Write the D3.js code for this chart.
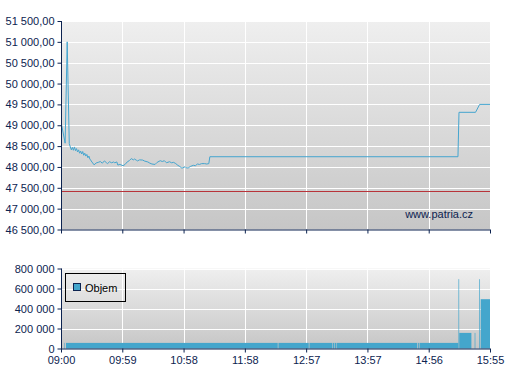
<!DOCTYPE html>
<html>
<head>
<meta charset="utf-8">
<script src="https://cdn.jsdelivr.net/npm/d3@7"></script>
<style>
  body { margin: 0; background: #fff; }
  text { font-family: "Liberation Sans", Arial, sans-serif; font-size: 11px; }
</style>
</head>
<body>
<script>
// intraday price (HH:MM) and volume bars
var priceTimes = ["09:00","09:04","09:06","09:08","09:09","09:10","09:11","09:12","09:13","09:14","09:15","09:16","09:17","09:18","09:19","09:20","09:21","09:22","09:23","09:24","09:25","09:26","09:27","09:28","09:29","09:30","09:31","09:32","09:34","09:36","09:38","09:40","09:42","09:44","09:45","09:47","09:49","09:51","09:52","09:54","09:55","09:57","10:00","10:02","10:04","10:06","10:08","10:10","10:11","10:13","10:14","10:16","10:19","10:21","10:24","10:26","10:28","10:31","10:33","10:36","10:38","10:40","10:42","10:45","10:47","10:49","10:51","10:53","10:55","10:57","11:00","11:01","11:03","11:05","11:08","11:10","11:12","11:14","11:16","11:19","11:21","11:23","11:24","15:24","15:25","15:41","15:45","15:55"];
var priceValues = [49085,48570,51000,48560,48480,48410,48470,48400,48480,48390,48440,48360,48410,48330,48380,48310,48370,48280,48330,48260,48300,48220,48260,48180,48160,48110,48090,48050,48095,48110,48130,48090,48145,48100,48080,48125,48100,48120,48100,48120,48045,48060,48030,48060,48120,48150,48200,48170,48190,48160,48145,48170,48165,48140,48120,48090,48070,48060,48110,48150,48130,48150,48100,48125,48100,48110,48080,48040,48010,47970,48005,47980,47975,48010,48040,48030,48070,48060,48080,48080,48070,48080,48245,48245,49310,49310,49500,49500];
var refLevel = 47420;

var volStart  = ["09:03:20","09:04:50","12:30:20","13:00:20","13:22:50","13:24:50","13:27:00","14:45:10","14:46:50","15:24:30","15:25:15","15:40:10","15:44:40","15:46:00"];
var volEnd    = ["09:03:50","12:29:40","12:59:40","13:22:20","13:24:20","13:26:30","14:44:30","14:46:10","15:24:20","15:25:10","15:37:00","15:40:50","15:45:20","15:55:00"];
var volValues = [56000,56000,56000,56000,56000,56000,56000,56000,56000,693000,156000,156000,693000,493000];

var xTickLabels = ["09:00","09:59","10:58","11:58","12:57","13:57","14:56","15:55"];
var priceTicks = [46500,47000,47500,48000,48500,49000,49500,50000,50500,51000,51500];
var volTicks = [0,200000,400000,600000,800000];

var W = 507, H = 380;
var left = 61, right = 490;
var mainTop = 21, mainBottom = 229.5;
var volTop = 268.5, volBottom = 348.5;
var ink = "#0c2350", lineCol = "#45a5cf";

var parseM = d3.timeParse("%H:%M"), parseS = d3.timeParse("%H:%M:%S");
var t0 = parseM("09:00"), t1 = parseM("15:55");

var loc = d3.formatLocale({decimal: ",", thousands: "\u00a0", grouping: [3], currency: ["", ""]});
var fmtPrice = loc.format(",.2f"), fmtVol = loc.format(",.0f");

var x = d3.scaleTime().domain([t0, t1]).range([left, right]);
var tickDates = d3.range(xTickLabels.length).map(function(i){
  return new Date(+t0 + i*(t1 - t0)/(xTickLabels.length - 1));
});
var yP = d3.scaleLinear().domain([46500, 51500]).range([mainBottom, mainTop]);
var yV = d3.scaleLinear().domain([0, 800000]).range([volBottom, volTop]);

var svg = d3.select('body').append('svg').attr('width', W).attr('height', H);
var defs = svg.append('defs');
var grad = defs.append('linearGradient').attr('id','bg').attr('x1',0).attr('y1',0).attr('x2',0).attr('y2',1);
grad.append('stop').attr('offset','0%').attr('stop-color','#efefef');
grad.append('stop').attr('offset','100%').attr('stop-color','#c6c6c6');
defs.append('clipPath').attr('id','clipMain').append('rect')
  .attr('x', left).attr('y', mainTop).attr('width', right-left).attr('height', mainBottom-mainTop);

function panel(top, bottom, yScale, ticks){
  var g = svg.append('g');
  g.append('rect').attr('x', left).attr('y', top).attr('width', right-left).attr('height', bottom-top)
    .attr('fill','url(#bg)');
  g.selectAll('.hg').data(ticks).enter().append('line')
    .attr('x1', left).attr('x2', right)
    .attr('y1', function(d){return Math.round(yScale(d))+0.5;})
    .attr('y2', function(d){return Math.round(yScale(d))+0.5;})
    .attr('stroke','#fff').attr('stroke-width',1);
  g.selectAll('.vg').data(tickDates).enter().append('line')
    .attr('x1', function(d){return Math.round(x(d))+0.5;})
    .attr('x2', function(d){return Math.round(x(d))+0.5;})
    .attr('y1', top).attr('y2', bottom)
    .attr('stroke','#fff').attr('stroke-width',1);
  return g;
}

function axes(bottom, yScale, ticks, fmt, showLabels){
  var ya = svg.append('g').attr('transform','translate('+(left+0.5)+',0)')
    .call(d3.axisLeft(yScale).tickValues(ticks).tickFormat(fmt).tickSize(4).tickPadding(3));
  var xa = svg.append('g').attr('transform','translate(0,'+bottom+')')
    .call(d3.axisBottom(x).tickValues(tickDates).tickSize(4).tickPadding(4)
      .tickFormat(function(d,i){return showLabels ? xTickLabels[i] : '';}));
  [ya, xa].forEach(function(a){
    a.select('.domain').attr('stroke', ink);
    a.selectAll('.tick line').attr('stroke', ink);
    a.selectAll('.tick text').attr('fill', ink).style('font-size','11px')
      .style('font-family','"Liberation Sans", Arial, sans-serif');
  });
  xa.select('.domain').attr('d','M'+left+',0.5H'+right);
  ya.select('.domain').attr('d','M0,'+yScale.range()[1]+'V'+(bottom+0.5));
}

// main price panel
panel(mainTop, mainBottom, yP, priceTicks);
svg.append('line').attr('x1', left).attr('x2', right)
  .attr('y1', Math.round(yP(refLevel))+0.5).attr('y2', Math.round(yP(refLevel))+0.5)
  .attr('stroke','#b8343a').attr('stroke-width',1);

var pts = priceTimes.map(function(t,i){return {t: parseM(t), v: priceValues[i]};});
svg.append('path').datum(pts).attr('clip-path','url(#clipMain)')
  .attr('fill','none').attr('stroke', lineCol).attr('stroke-width',1)
  .attr('d', d3.line().x(function(d){return x(d.t);}).y(function(d){return yP(d.v);}));

svg.append('text').attr('x', right-17).attr('y', 218).attr('text-anchor','end')
  .attr('fill', ink).text('www.patria.cz');

axes(mainBottom, yP, priceTicks, fmtPrice, false);

// volume panel
panel(volTop, volBottom, yV, volTicks);
var bars = volValues.map(function(v,i){return {s: parseS(volStart[i]), e: parseS(volEnd[i]), v: v};});
svg.selectAll('.bar').data(bars).enter().append('rect').attr('class','bar')
  .attr('x', function(d){return x(d.s);})
  .attr('width', function(d){return Math.max(0.5, x(d.e) - x(d.s));})
  .attr('y', function(d){return yV(d.v);})
  .attr('height', function(d){return volBottom - yV(d.v);})
  .attr('fill', '#44a6cc');

axes(volBottom, yV, volTicks, fmtVol, true);

// legend
var lg = svg.append('g');
lg.append('rect').attr('x', 65.5).attr('y', 273.5).attr('width', 60).attr('height', 28)
  .attr('fill','none').attr('stroke','#000');
lg.append('rect').attr('x', 73.5).attr('y', 283.5).attr('width', 7).attr('height', 7)
  .attr('fill','#44a6cc').attr('stroke', ink);
lg.append('text').attr('x', 85).attr('y', 292).attr('fill','#000').text('Objem');
</script>
</body>
</html>
